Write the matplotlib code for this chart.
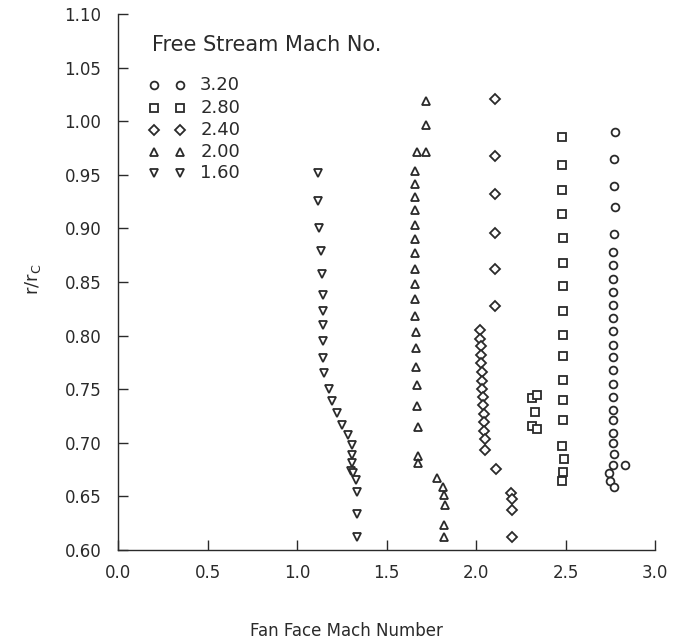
import matplotlib
matplotlib.use("Agg")
import matplotlib.pyplot as plt

# Free stream Mach number series: fan face Mach number (x) vs r/rc (y)
m160_x = [1.119, 1.119, 1.125, 1.132, 1.138, 1.143, 1.147, 1.147, 1.147, 1.147, 1.153, 1.181, 1.194,
          1.222, 1.250, 1.287, 1.306, 1.306, 1.306, 1.302, 1.315, 1.330, 1.333, 1.333, 1.333]
m160_y = [0.952, 0.926, 0.900, 0.879, 0.857, 0.838, 0.823, 0.810, 0.795, 0.779, 0.765, 0.750, 0.739,
          0.728, 0.717, 0.707, 0.698, 0.689, 0.681, 0.674, 0.672, 0.665, 0.654, 0.634, 0.612]

m200_x = [1.721, 1.721, 1.669, 1.721, 1.659, 1.659, 1.659, 1.659, 1.659, 1.659, 1.659, 1.659, 1.659,
          1.659, 1.659, 1.665, 1.665, 1.665, 1.669, 1.673, 1.678, 1.678, 1.678,
          1.780, 1.817, 1.823, 1.827, 1.823, 1.823]
m200_y = [1.019, 0.996, 0.971, 0.971, 0.954, 0.941, 0.929, 0.917, 0.903, 0.890, 0.877, 0.862, 0.848,
          0.834, 0.818, 0.803, 0.788, 0.771, 0.754, 0.734, 0.715, 0.688, 0.681,
          0.667, 0.659, 0.651, 0.642, 0.623, 0.612]

m240_x = [2.106, 2.106, 2.106, 2.106, 2.106, 2.106,
          2.022, 2.024, 2.026, 2.028, 2.030, 2.032, 2.034, 2.036, 2.038, 2.040, 2.042, 2.044, 2.046, 2.048, 2.050,
          2.112, 2.196, 2.201, 2.199, 2.199]
m240_y = [1.021, 0.968, 0.932, 0.896, 0.862, 0.828,
          0.805, 0.797, 0.790, 0.782, 0.774, 0.766, 0.758, 0.750, 0.743, 0.735, 0.727, 0.719, 0.711, 0.704, 0.693,
          0.676, 0.653, 0.648, 0.637, 0.612]

m280_x = [2.480, 2.478, 2.480, 2.482, 2.484, 2.484, 2.486, 2.486, 2.488, 2.488, 2.488, 2.488, 2.488,
          2.315, 2.340, 2.330, 2.315, 2.340,
          2.480, 2.490, 2.485, 2.480]
m280_y = [0.985, 0.959, 0.936, 0.913, 0.891, 0.868, 0.846, 0.823, 0.801, 0.781, 0.759, 0.740, 0.721,
          0.742, 0.745, 0.729, 0.716, 0.713,
          0.697, 0.685, 0.673, 0.664]

m320_x = [2.775, 2.770, 2.772, 2.775, 2.770, 2.768, 2.768, 2.768, 2.768, 2.768, 2.768, 2.768, 2.768,
          2.768, 2.768, 2.768, 2.768, 2.768, 2.768, 2.768, 2.768,
          2.770, 2.765, 2.745, 2.750, 2.770, 2.830]
m320_y = [0.990, 0.965, 0.940, 0.920, 0.895, 0.878, 0.866, 0.853, 0.841, 0.829, 0.816, 0.804, 0.791,
          0.780, 0.768, 0.755, 0.743, 0.731, 0.721, 0.709, 0.700,
          0.690, 0.679, 0.672, 0.664, 0.659, 0.679]

legend_labels = ["3.20", "2.80", "2.40", "2.00", "1.60"]
legend_markers = ["o", "s", "D", "^", "v"]

x_ticks = [0.0, 0.5, 1.0, 1.5, 2.0, 2.5, 3.0]
y_ticks = [0.60, 0.65, 0.70, 0.75, 0.80, 0.85, 0.90, 0.95, 1.00, 1.05, 1.10]

ink = "#2a2a2a"
plt.rcParams["font.family"] = ["DejaVu Sans"]

fig = plt.figure(figsize=(6.87, 6.44), dpi=100)
ax = fig.add_axes([118 / 687, 1 - 550 / 644, 537 / 687, 536 / 644])

series = [(m320_x, m320_y, "o"), (m280_x, m280_y, "s"), (m240_x, m240_y, "D"),
          (m200_x, m200_y, "^"), (m160_x, m160_y, "v")]
for xs, ys, mk in series:
    ms = 5.0 if mk == "D" else 5.6
    ax.plot(xs, ys, linestyle="none", marker=mk, ms=ms, mfc="white", mec=ink, mew=1.3)

ax.set_xlim(0.0, 3.0)
ax.set_ylim(0.60, 1.10)
ax.set_xticks(x_ticks)
ax.set_yticks(y_ticks)
ax.set_xticklabels([f"{v:.1f}" for v in x_ticks])
ax.set_yticklabels([f"{v:.2f}" for v in y_ticks])
ax.tick_params(direction="in", length=7, width=1, colors=ink, labelsize=12)
ax.tick_params(axis="x", pad=10)
ax.tick_params(axis="y", pad=12)
for side in ("top", "right"):
    ax.spines[side].set_visible(False)
for side in ("left", "bottom"):
    ax.spines[side].set_color(ink)
    ax.spines[side].set_linewidth(1.0)

ax.set_xlabel("Fan Face Mach Number", fontsize=12, color=ink)
ax.xaxis.set_label_coords(0.425, -0.151)
ax.xaxis.label.set_va("center")
ax.set_ylabel(r"r/r$_\mathregular{C}$", fontsize=13, color=ink)
ax.yaxis.set_label_coords(-0.158, 0.505)
ax.yaxis.label.set_va("center")

# legend block
ax.text(0.063, 0.942, "Free Stream Mach No.", transform=ax.transAxes, fontsize=15,
        color=ink, va="center", ha="left")
rows = [0.868, 0.825, 0.784, 0.743, 0.703]
for lab, mk, ry in zip(legend_labels, legend_markers, rows):
    ms = 5.0 if mk == "D" else 5.6
    ax.plot([0.067, 0.115], [ry, ry], transform=ax.transAxes, linestyle="none", marker=mk,
            ms=ms, mfc="white", mec=ink, mew=1.3, clip_on=False)
    ax.text(0.153, ry, lab, transform=ax.transAxes, fontsize=13, color=ink, va="center", ha="left")

fig.savefig("out.png", dpi=100, facecolor="white")
